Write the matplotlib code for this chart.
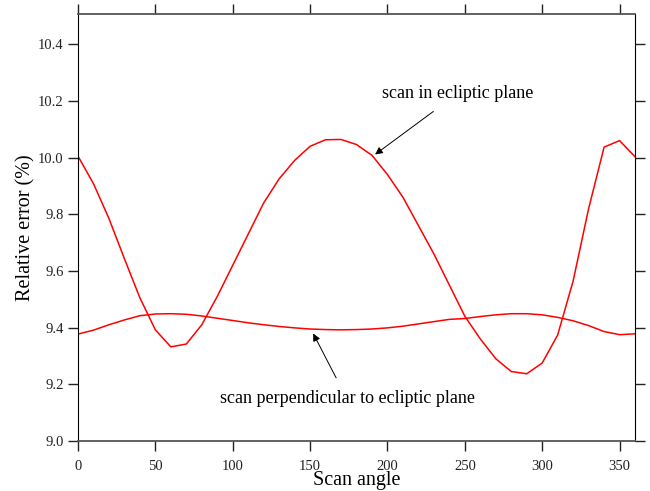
import matplotlib.pyplot as plt

plt.rcParams['font.family'] = ['Liberation Serif', 'DejaVu Serif']

# Datos
angulos = [0, 10, 20, 30, 40, 50, 60, 70, 80, 90, 100, 110, 120, 130, 140, 150, 160, 170, 180,
           190, 200, 210, 220, 230, 240, 250, 260, 270, 280, 290, 300, 310, 320, 330, 340, 350, 360]
err_ecliptica = [10.005, 9.908, 9.785, 9.643, 9.505, 9.392, 9.332, 9.342, 9.41, 9.51, 9.62, 9.73,
                 9.84, 9.925, 9.99, 10.04, 10.063, 10.064, 10.046, 10.008, 9.94, 9.86, 9.76, 9.66,
                 9.55, 9.44, 9.36, 9.29, 9.245, 9.237, 9.275, 9.374, 9.565, 9.82, 10.037, 10.06, 10.003]
err_perpendicular = [9.377, 9.391, 9.41, 9.427, 9.442, 9.448, 9.449, 9.447, 9.441, 9.433, 9.425,
                     9.417, 9.41, 9.404, 9.399, 9.395, 9.393, 9.392, 9.393, 9.395, 9.399, 9.405,
                     9.413, 9.421, 9.429, 9.432, 9.439, 9.445, 9.449, 9.449, 9.445, 9.436, 9.424,
                     9.407, 9.386, 9.375, 9.378]
ticks_x = [0, 50, 100, 150, 200, 250, 300, 350]
ticks_y = [9.0, 9.2, 9.4, 9.6, 9.8, 10.0, 10.2, 10.4]

fig = plt.figure(figsize=(6.5, 4.91), dpi=100)
ax = fig.add_axes([0.12, 0.102, 0.857, 0.869])

ax.plot(angulos, err_ecliptica, color='red', lw=1.1)
ax.plot(angulos, err_perpendicular, color='red', lw=1.1)

ax.set_xlim(0, 360)
ax.set_ylim(9.0, 10.506)
ax.set_xticks(ticks_x)
ax.set_yticks(ticks_y)
ax.set_yticklabels(['%.1f' % v for v in ticks_y])

gris = '#555555'
ax.spines['top'].set_color(gris)
ax.spines['bottom'].set_color(gris)
ax.spines['top'].set_linewidth(1.3)
ax.spines['bottom'].set_linewidth(1.3)
ax.tick_params(direction='out', length=7, width=1, labelsize=10.5, colors='#222222',
               top=True, right=True, labeltop=False, labelright=False)
ax.tick_params(axis='x', pad=6.5)

ax.set_xlabel('Scan angle', fontsize=14.5, labelpad=-1)
ax.set_ylabel('Relative error (%)', fontsize=14.5, labelpad=2)

ax.annotate('scan in ecliptic plane', xy=(192, 10.011), xytext=(245.3, 10.226),
            ha='center', va='center', fontsize=13,
            arrowprops=dict(arrowstyle='-|>', color='black', lw=0.7, shrinkA=8, shrinkB=0,
                            mutation_scale=11))
ax.annotate('scan perpendicular to ecliptic plane', xy=(152, 9.379), xytext=(173.9, 9.148),
            ha='center', va='center', fontsize=13,
            arrowprops=dict(arrowstyle='-|>', color='black', lw=0.7, shrinkA=8, shrinkB=0,
                            mutation_scale=11))

fig.savefig('out.png', dpi=100)
